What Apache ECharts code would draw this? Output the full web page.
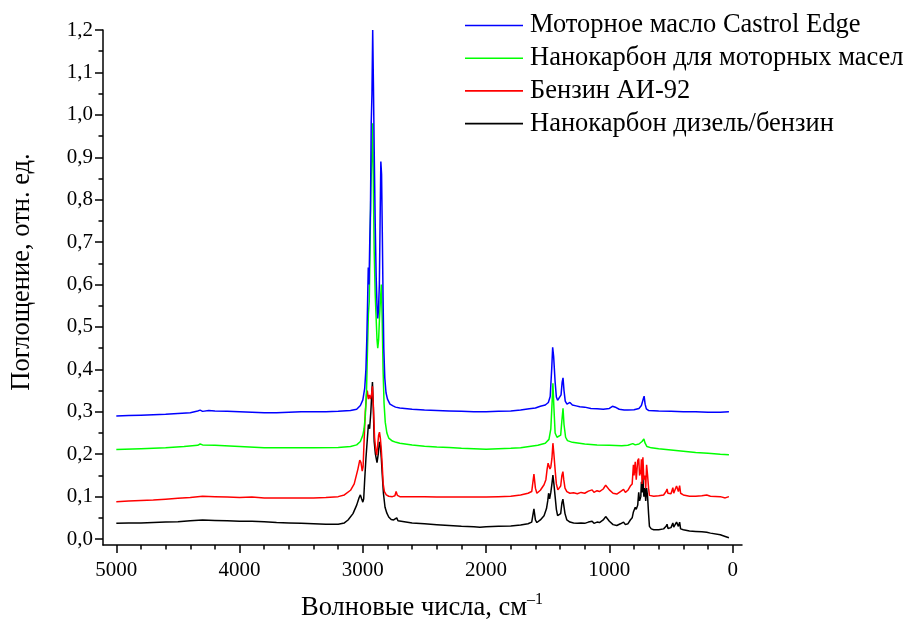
<!DOCTYPE html>
<html>
<head>
<meta charset="utf-8">
<script src="https://cdn.jsdelivr.net/npm/echarts@6/dist/echarts.min.js"></script>
<style>
html, body { margin: 0; padding: 0; background: #fff; }
#chart { width: 911px; height: 626px; }
</style>
</head>
<body>
<div id="chart"></div>
<script>
// IR absorption spectra: [wavenumber (cm^-1), absorbance (rel. units)]
const seriesNames = [
  'Моторное масло Castrol Edge',
  'Нанокарбон для моторных масел',
  'Бензин АИ-92',
  'Нанокарбон дизель/бензин'
];
const seriesColors = ['#0000ff', '#00ff00', '#ff0000', '#000000'];

const castrolEdge = [
  [5000,0.290],[4900,0.291],[4800,0.292],[4700,0.293],[4600,0.294],[4500,0.296],[4400,0.298],
  [4340,0.302],[4320,0.304],[4300,0.301],[4250,0.303],[4200,0.302],[4100,0.301],[4000,0.300],
  [3900,0.299],[3800,0.298],[3700,0.298],[3600,0.299],[3500,0.300],[3400,0.300],[3300,0.300],
  [3200,0.301],[3100,0.303],[3050,0.306],[3020,0.315],[3000,0.328],[2985,0.355],[2975,0.40],
  [2968,0.47],[2962,0.55],[2956,0.64],[2950,0.60],[2944,0.70],[2938,0.78],[2932,0.98],
  [2926,1.05],[2920,1.20],[2914,1.07],[2908,0.92],[2900,0.75],[2892,0.62],[2885,0.55],
  [2879,0.52],[2873,0.54],[2866,0.60],[2860,0.75],[2854,0.89],[2848,0.86],[2842,0.72],
  [2836,0.57],[2830,0.45],[2822,0.38],[2812,0.345],[2800,0.33],[2780,0.318],[2755,0.314],
  [2735,0.311],[2700,0.309],[2600,0.306],[2500,0.304],[2400,0.303],[2300,0.302],[2200,0.301],
  [2100,0.300],[2000,0.300],[1900,0.301],[1800,0.302],[1720,0.304],[1650,0.307],[1600,0.309],
  [1560,0.313],[1520,0.316],[1495,0.322],[1480,0.336],[1468,0.40],[1460,0.452],[1452,0.43],
  [1440,0.37],[1430,0.335],[1420,0.327],[1405,0.324],[1392,0.34],[1383,0.37],[1376,0.38],
  [1368,0.35],[1358,0.325],[1344,0.318],[1320,0.322],[1300,0.316],[1270,0.314],[1240,0.312],
  [1200,0.311],[1150,0.308],[1100,0.307],[1050,0.306],[1000,0.308],[975,0.313],[962,0.315],
  [945,0.310],[920,0.306],[880,0.304],[850,0.304],[800,0.305],[760,0.308],[740,0.315],
  [725,0.330],[718,0.337],[710,0.318],[700,0.307],[680,0.303],[600,0.302],[500,0.301],
  [400,0.300],[300,0.300],[200,0.299],[100,0.299],[30,0.300]
];

const nanocarbonOil = [
  [5000,0.211],[4800,0.213],[4600,0.215],[4450,0.218],[4340,0.221],[4320,0.224],[4300,0.222],
  [4200,0.221],[4000,0.218],[3800,0.215],[3600,0.215],[3400,0.215],[3200,0.216],[3100,0.218],
  [3050,0.222],[3020,0.230],[3000,0.245],[2990,0.260],[2980,0.290],[2970,0.350],[2962,0.450],
  [2955,0.530],[2948,0.560],[2942,0.680],[2935,0.820],[2928,0.900],[2920,0.980],[2914,0.820],
  [2908,0.680],[2900,0.580],[2892,0.520],[2885,0.470],[2879,0.450],[2872,0.470],[2865,0.520],
  [2858,0.560],[2850,0.600],[2843,0.520],[2836,0.400],[2828,0.320],[2818,0.275],[2805,0.250],
  [2790,0.238],[2760,0.231],[2730,0.228],[2700,0.226],[2600,0.222],[2500,0.219],[2400,0.217],
  [2300,0.216],[2200,0.214],[2100,0.213],[2000,0.212],[1900,0.213],[1800,0.214],[1720,0.215],
  [1650,0.218],[1580,0.221],[1520,0.226],[1490,0.235],[1475,0.260],[1465,0.320],[1458,0.367],
  [1450,0.310],[1440,0.250],[1425,0.240],[1410,0.237],[1395,0.245],[1385,0.280],[1376,0.308],
  [1368,0.270],[1355,0.240],[1340,0.232],[1300,0.228],[1200,0.224],[1100,0.222],[1000,0.221],
  [900,0.220],[850,0.221],[810,0.225],[790,0.222],[760,0.224],[735,0.230],[720,0.236],
  [710,0.226],[695,0.218],[660,0.215],[600,0.213],[500,0.210],[400,0.207],[300,0.204],
  [200,0.202],[100,0.200],[30,0.199]
];

const petrolAI92 = [
  [5000,0.088],[4900,0.090],[4800,0.091],[4700,0.092],[4600,0.094],[4500,0.096],[4400,0.098],
  [4300,0.101],[4200,0.100],[4100,0.099],[4000,0.098],[3900,0.099],[3800,0.097],[3700,0.097],
  [3600,0.097],[3500,0.097],[3400,0.097],[3300,0.098],[3200,0.100],[3150,0.104],[3100,0.115],
  [3070,0.130],[3040,0.165],[3025,0.186],[3015,0.180],[3005,0.160],[2998,0.170],[2990,0.230],
  [2980,0.300],[2970,0.340],[2964,0.350],[2955,0.330],[2946,0.340],[2938,0.330],[2930,0.340],
  [2922,0.360],[2914,0.310],[2905,0.240],[2895,0.210],[2888,0.198],[2880,0.220],[2872,0.245],
  [2865,0.252],[2858,0.238],[2850,0.210],[2842,0.170],[2835,0.130],[2825,0.112],[2810,0.104],
  [2790,0.101],[2760,0.100],[2740,0.102],[2730,0.112],[2720,0.103],[2700,0.100],[2600,0.100],
  [2500,0.100],[2400,0.099],[2300,0.099],[2200,0.099],[2100,0.099],[2000,0.099],[1900,0.100],
  [1800,0.101],[1720,0.104],[1660,0.108],[1630,0.112],[1612,0.153],[1600,0.120],[1588,0.108],
  [1560,0.115],[1530,0.128],[1515,0.140],[1505,0.165],[1497,0.179],[1490,0.172],[1482,0.165],
  [1475,0.170],[1466,0.190],[1458,0.226],[1450,0.200],[1440,0.163],[1430,0.130],[1418,0.116],
  [1405,0.118],[1395,0.125],[1385,0.150],[1377,0.159],[1370,0.140],[1360,0.120],[1345,0.112],
  [1320,0.108],[1290,0.109],[1260,0.107],[1230,0.110],[1200,0.108],[1170,0.113],[1155,0.112],
  [1140,0.116],[1125,0.110],[1100,0.114],[1080,0.112],[1050,0.118],[1030,0.127],[1020,0.125],
  [1000,0.116],[970,0.108],[940,0.106],[910,0.112],[885,0.117],[870,0.110],[850,0.115],
  [830,0.125],[815,0.130],[805,0.175],[800,0.150],[790,0.182],[782,0.140],[770,0.185],
  [762,0.190],[755,0.150],[745,0.160],[740,0.188],[735,0.130],[728,0.193],[720,0.140],
  [712,0.150],[705,0.120],[698,0.175],[690,0.150],[682,0.120],[675,0.103],[660,0.104],
  [640,0.101],[600,0.102],[560,0.104],[540,0.112],[532,0.118],[525,0.108],[500,0.107],
  [485,0.121],[478,0.108],[465,0.112],[455,0.125],[448,0.128],[440,0.112],[430,0.126],
  [422,0.108],[400,0.104],[350,0.101],[300,0.101],[250,0.102],[210,0.104],[180,0.101],
  [100,0.100],[60,0.097],[30,0.100]
];

const nanocarbonFuel = [
  [5000,0.037],[4900,0.038],[4800,0.038],[4700,0.039],[4600,0.040],[4500,0.041],[4400,0.043],
  [4300,0.045],[4200,0.044],[4100,0.043],[4000,0.042],[3900,0.042],[3800,0.041],[3700,0.039],
  [3600,0.038],[3500,0.037],[3400,0.036],[3300,0.035],[3200,0.035],[3150,0.038],[3120,0.045],
  [3080,0.060],[3050,0.080],[3030,0.098],[3020,0.104],[3010,0.095],[3000,0.087],[2993,0.095],
  [2985,0.140],[2975,0.190],[2965,0.230],[2955,0.270],[2945,0.260],[2935,0.300],[2928,0.340],
  [2922,0.370],[2915,0.310],[2908,0.230],[2898,0.200],[2885,0.180],[2875,0.200],[2866,0.229],
  [2858,0.220],[2850,0.190],[2842,0.150],[2833,0.108],[2820,0.075],[2805,0.061],[2790,0.052],
  [2770,0.046],[2750,0.045],[2735,0.043],[2725,0.050],[2715,0.043],[2700,0.041],[2600,0.038],
  [2500,0.036],[2400,0.034],[2300,0.032],[2200,0.030],[2100,0.029],[2050,0.028],[2000,0.029],
  [1900,0.030],[1800,0.031],[1720,0.033],[1660,0.036],[1630,0.040],[1612,0.071],[1600,0.045],
  [1588,0.039],[1560,0.045],[1530,0.055],[1510,0.072],[1500,0.090],[1493,0.108],[1485,0.095],
  [1475,0.110],[1466,0.130],[1458,0.151],[1450,0.130],[1440,0.100],[1430,0.070],[1420,0.055],
  [1405,0.052],[1395,0.060],[1385,0.085],[1377,0.094],[1370,0.080],[1360,0.060],[1345,0.045],
  [1320,0.040],[1290,0.038],[1260,0.037],[1230,0.038],[1200,0.037],[1170,0.040],[1155,0.038],
  [1140,0.042],[1125,0.037],[1100,0.040],[1080,0.039],[1050,0.045],[1030,0.053],[1020,0.050],
  [1000,0.042],[970,0.034],[940,0.032],[910,0.036],[885,0.040],[870,0.034],[850,0.036],
  [830,0.045],[815,0.050],[805,0.064],[800,0.060],[790,0.075],[782,0.070],[770,0.080],
  [762,0.110],[755,0.090],[745,0.100],[740,0.135],[735,0.110],[728,0.144],[720,0.100],
  [712,0.120],[705,0.090],[698,0.120],[690,0.100],[682,0.060],[675,0.030],[660,0.024],
  [640,0.022],[600,0.022],[560,0.024],[540,0.030],[532,0.035],[525,0.025],[500,0.027],
  [485,0.038],[478,0.028],[465,0.030],[455,0.040],[448,0.042],[440,0.030],[430,0.040],
  [422,0.024],[400,0.022],[350,0.019],[300,0.018],[250,0.017],[210,0.016],[180,0.014],
  [100,0.010],[60,0.006],[30,0.003]
];

// Axis ticks
const xMajorTicks = [0, 1000, 2000, 3000, 4000, 5000];
const xMinorTicks = [200, 400, 600, 800, 1200, 1400, 1600, 1800, 2200, 2400, 2600, 2800,
                     3200, 3400, 3600, 3800, 4200, 4400, 4600, 4800];
const yMajorTicks = [0, 0.1, 0.2, 0.3, 0.4, 0.5, 0.6, 0.7, 0.8, 0.9, 1.0, 1.1, 1.2];
const yMinorTicks = [0.05, 0.15, 0.25, 0.35, 0.45, 0.55, 0.65, 0.75, 0.85, 0.95, 1.05, 1.15];

const xTitle = 'Волновые числа, см';
const xTitleSup = '–1';
const yTitle = 'Поглощение, отн. ед.';

const FONT = '"Liberation Serif", "Times New Roman", serif';
const X_MIN = -76, X_MAX = 5108;
const Y_MIN = -0.014, Y_MAX = 1.2;

const GRID = { left: 103, right: 169, top: 30, bottom: 81 };
const GRID_W = 911 - GRID.left - GRID.right;

const axisLineStyle = { color: '#000', width: 1.5 };

const chart = echarts.init(document.getElementById('chart'), null, { renderer: 'canvas' });

const spectra = [castrolEdge, nanocarbonOil, petrolAI92, nanocarbonFuel];
// draw from the bottom trace upwards so the blue trace lies on top
const drawOrder = [3, 2, 1, 0];

chart.setOption({
  animation: false,
  backgroundColor: '#fff',
  grid: GRID,
  legend: {
    orient: 'vertical',
    left: 465,
    top: 10.5,
    padding: 0,
    icon: 'rect',
    itemWidth: 58,
    itemHeight: 1.6,
    itemGap: 2.7,
    data: seriesNames,
    textStyle: { fontFamily: FONT, fontSize: 26.5, color: '#000', lineHeight: 30, padding: [0, 0, 0, 2] }
  },
  xAxis: [
    {
      type: 'value', inverse: true, min: X_MIN, max: X_MAX, position: 'bottom',
      axisLine: { show: true, onZero: false, lineStyle: axisLineStyle },
      axisTick: { show: true, customValues: xMajorTicks, length: 8, lineStyle: axisLineStyle },
      axisLabel: {
        show: true, customValues: xMajorTicks, margin: 15,
        fontFamily: FONT, fontSize: 21, color: '#000',
        formatter: v => String(v)
      },
      splitLine: { show: false }
    },
    {
      // minor ticks, carried by a second bottom-aligned axis
      type: 'value', inverse: true, min: X_MIN, max: X_MAX, position: 'bottom',
      axisLine: { show: false, onZero: false },
      axisTick: { show: true, customValues: xMinorTicks, length: 4.5, lineStyle: axisLineStyle },
      axisLabel: { show: false },
      splitLine: { show: false }
    }
  ],
  yAxis: [
    {
      type: 'value', min: Y_MIN, max: Y_MAX, position: 'left',
      axisLine: { show: true, onZero: false, lineStyle: axisLineStyle },
      axisTick: { show: true, customValues: yMajorTicks, length: 8, lineStyle: axisLineStyle },
      axisLabel: {
        show: true, customValues: yMajorTicks, margin: 10,
        fontFamily: FONT, fontSize: 21, color: '#000',
        formatter: v => v.toFixed(1).replace('.', ',')
      },
      splitLine: { show: false }
    },
    {
      // minor ticks: a right-side axis shifted onto the left edge, ticks turned outward
      type: 'value', min: Y_MIN, max: Y_MAX, position: 'right', offset: -GRID_W,
      axisLine: { show: false, onZero: false },
      axisTick: { show: true, inside: true, customValues: yMinorTicks, length: 4.5, lineStyle: axisLineStyle },
      axisLabel: { show: false },
      splitLine: { show: false }
    }
  ],
  graphic: [
    {
      type: 'text', x: 422, y: 607,
      style: {
        text: '{t|' + xTitle + '}{s|' + xTitleSup + '}',
        align: 'center', verticalAlign: 'middle',
        rich: {
          t: { fontFamily: FONT, fontSize: 26.5, fill: '#000', lineHeight: 30, verticalAlign: 'bottom' },
          s: { fontFamily: FONT, fontSize: 16, fill: '#000', lineHeight: 30, verticalAlign: 'top' }
        }
      }
    },
    {
      type: 'text', x: 22, y: 272, rotation: Math.PI / 2,
      style: {
        text: yTitle, align: 'center', verticalAlign: 'middle',
        fontFamily: FONT, fontSize: 26.5, fill: '#000'
      }
    }
  ],
  series: drawOrder.map(i => ({
    name: seriesNames[i],
    type: 'line',
    xAxisIndex: 0,
    yAxisIndex: 0,
    data: spectra[i],
    symbol: 'none',
    showSymbol: false,
    smooth: false,
    lineStyle: { color: seriesColors[i], width: 1.5 },
    itemStyle: { color: seriesColors[i] },
    z: 2 + (3 - i)
  }))
});
</script>
</body>
</html>
